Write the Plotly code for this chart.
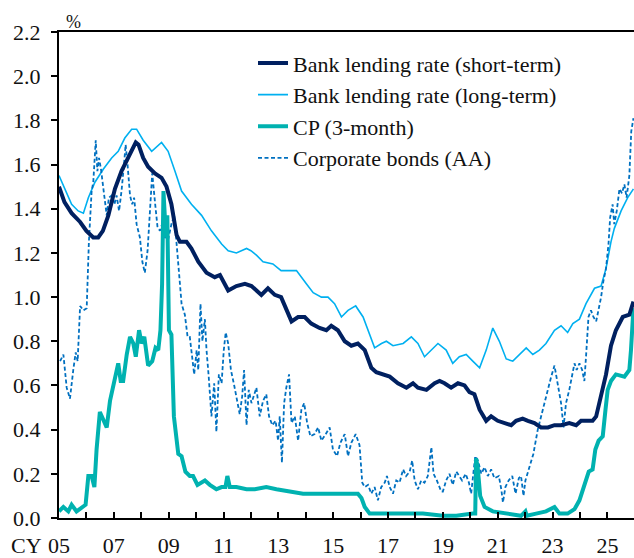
import plotly.graph_objects as go

# ---- data (decimal calendar years) ----
st_x = [2005.0, 2005.2, 2005.46, 2005.77, 2006.0, 2006.25, 2006.43, 2006.6, 2006.8, 2007.04, 2007.28, 2007.47,
        2007.67, 2007.8, 2007.9, 2008.07, 2008.25, 2008.5, 2008.74, 2008.92, 2009.1, 2009.29, 2009.41, 2009.65,
        2009.83, 2010.08, 2010.38, 2010.68, 2010.87, 2011.17, 2011.47, 2011.78, 2012.02, 2012.2, 2012.38, 2012.62,
        2012.87, 2013.1, 2013.3, 2013.48, 2013.72, 2013.96, 2014.2, 2014.5, 2014.75, 2014.93, 2015.17, 2015.42,
        2015.66, 2015.9, 2016.15, 2016.39, 2016.57, 2016.82, 2017.06, 2017.36, 2017.67, 2017.91, 2018.09, 2018.4,
        2018.7, 2018.88, 2019.06, 2019.3, 2019.55, 2019.79, 2019.97, 2020.15, 2020.34, 2020.58, 2020.76, 2021.0,
        2021.25, 2021.49, 2021.67, 2021.91, 2022.1, 2022.34, 2022.58, 2022.83, 2023.07, 2023.31, 2023.61, 2023.86,
        2024.04, 2024.22, 2024.46, 2024.59, 2024.77, 2024.95, 2025.13, 2025.31, 2025.56, 2025.8, 2025.95]
st_y = [1.50, 1.43, 1.38, 1.34, 1.30, 1.27, 1.27, 1.30, 1.37, 1.49, 1.57, 1.62,
        1.67, 1.70, 1.69, 1.63, 1.59, 1.56, 1.54, 1.50, 1.42, 1.28, 1.25, 1.25,
        1.22, 1.16, 1.11, 1.09, 1.10, 1.03, 1.05, 1.06, 1.05, 1.03, 1.01, 1.04,
        1.01, 1.00, 0.94, 0.89, 0.91, 0.91, 0.88, 0.86, 0.85, 0.87, 0.85, 0.80,
        0.78, 0.79, 0.76, 0.68, 0.66, 0.65, 0.64, 0.61, 0.59, 0.61, 0.59, 0.58,
        0.61, 0.62, 0.61, 0.59, 0.61, 0.60, 0.57, 0.56, 0.49, 0.44, 0.46, 0.44,
        0.43, 0.42, 0.44, 0.45, 0.44, 0.43, 0.41, 0.41, 0.42, 0.42, 0.43, 0.42,
        0.44, 0.44, 0.44, 0.46, 0.55, 0.65, 0.78, 0.85, 0.91, 0.92, 0.98]

lt_x = [2005.0, 2005.22, 2005.46, 2005.7, 2005.89, 2006.07, 2006.31, 2006.62, 2006.92, 2007.16, 2007.4, 2007.65,
        2007.83, 2008.07, 2008.38, 2008.74, 2008.98, 2009.23, 2009.47, 2009.83, 2010.2, 2010.56, 2010.93, 2011.17,
        2011.47, 2011.84, 2012.0, 2012.2, 2012.44, 2012.8, 2013.1, 2013.42, 2013.66, 2014.02, 2014.27, 2014.57,
        2014.81, 2015.05, 2015.3, 2015.54, 2015.82, 2016.09, 2016.27, 2016.51, 2016.76, 2016.94, 2017.18, 2017.55,
        2017.85, 2018.09, 2018.33, 2018.58, 2018.82, 2019.12, 2019.36, 2019.6, 2019.85, 2020.09, 2020.34, 2020.58,
        2020.82, 2021.06, 2021.31, 2021.55, 2021.79, 2022.04, 2022.28, 2022.52, 2022.76, 2023.07, 2023.31, 2023.55,
        2023.74, 2023.98, 2024.22, 2024.53, 2024.77, 2024.95, 2025.13, 2025.25, 2025.5, 2025.74, 2025.95]
lt_y = [1.55, 1.49, 1.42, 1.39, 1.38, 1.45, 1.52, 1.58, 1.63, 1.66, 1.72, 1.76,
        1.76, 1.71, 1.66, 1.70, 1.66, 1.57, 1.48, 1.42, 1.37, 1.30, 1.24, 1.21,
        1.20, 1.22, 1.21, 1.19, 1.16, 1.15, 1.12, 1.12, 1.12, 1.06, 1.02, 1.00,
        1.00, 0.97, 0.91, 0.94, 0.96, 0.91, 0.85, 0.77, 0.79, 0.80, 0.78, 0.79,
        0.82, 0.79, 0.73, 0.76, 0.79, 0.76, 0.70, 0.73, 0.74, 0.71, 0.68, 0.76,
        0.86, 0.80, 0.72, 0.71, 0.74, 0.77, 0.74, 0.76, 0.79, 0.85, 0.87, 0.84,
        0.88, 0.90, 0.97, 1.04, 1.05, 1.13, 1.25, 1.31, 1.39, 1.45, 1.49]

cp_x = [2005.0, 2005.16, 2005.34, 2005.46, 2005.64, 2005.83, 2005.97, 2006.07, 2006.19, 2006.29, 2006.37, 2006.49,
        2006.62, 2006.74, 2006.86, 2006.98, 2007.1, 2007.16, 2007.25, 2007.34, 2007.47, 2007.59, 2007.71, 2007.8,
        2007.92, 2008.01, 2008.11, 2008.25, 2008.4, 2008.52, 2008.62, 2008.7, 2008.76, 2008.81, 2008.9, 2008.95,
        2009.01, 2009.1, 2009.19, 2009.35, 2009.47, 2009.61, 2009.77, 2009.89, 2010.05, 2010.32, 2010.5, 2010.74,
        2010.93, 2011.07, 2011.14, 2011.23, 2011.47, 2011.84, 2012.14, 2012.56, 2012.93, 2013.41, 2013.9, 2014.39,
        2014.99, 2015.6, 2015.9, 2016.03, 2016.15, 2016.33, 2016.81, 2017.42, 2017.66, 2018.27, 2019.0, 2019.49,
        2020.09, 2020.18, 2020.21, 2020.27, 2020.36, 2020.52, 2020.82, 2021.31, 2021.85, 2022.01, 2022.06, 2022.4,
        2022.76, 2023.07, 2023.25, 2023.55, 2023.8, 2023.98, 2024.16, 2024.32, 2024.46, 2024.56, 2024.68, 2024.83,
        2024.93, 2025.01, 2025.13, 2025.31, 2025.62, 2025.8, 2025.86, 2025.95]
cp_y = [0.03, 0.05, 0.03, 0.06, 0.03, 0.05, 0.06, 0.19, 0.19, 0.14, 0.31, 0.48,
        0.44, 0.41, 0.53, 0.60, 0.65, 0.70, 0.62, 0.62, 0.74, 0.82, 0.79, 0.73,
        0.85, 0.79, 0.82, 0.69, 0.71, 0.77, 0.76, 0.85, 1.06, 1.48, 1.27, 1.37,
        0.85, 0.83, 0.46, 0.29, 0.28, 0.21, 0.19, 0.19, 0.15, 0.17, 0.15, 0.13,
        0.14, 0.14, 0.19, 0.14, 0.14, 0.13, 0.13, 0.14, 0.13, 0.12, 0.11, 0.11,
        0.11, 0.11, 0.11, 0.09, 0.05, 0.02, 0.02, 0.02, 0.02, 0.02, 0.01, 0.01,
        0.02, 0.02, 0.27, 0.23, 0.10, 0.05, 0.03, 0.02, 0.01, 0.03, 0.01, 0.02,
        0.03, 0.05, 0.02, 0.02, 0.04, 0.08, 0.15, 0.21, 0.22, 0.31, 0.35, 0.37,
        0.49, 0.58, 0.62, 0.65, 0.64, 0.67, 0.76, 0.95]

cb_x = [2005.04, 2005.16, 2005.28, 2005.4, 2005.52, 2005.61, 2005.68, 2005.77, 2005.89, 2006.01, 2006.09, 2006.19,
        2006.25, 2006.34, 2006.4, 2006.46, 2006.53, 2006.62, 2006.74, 2006.82, 2006.92, 2007.02, 2007.1, 2007.19,
        2007.28, 2007.37, 2007.43, 2007.5, 2007.59, 2007.67, 2007.74, 2007.83, 2007.95, 2008.04, 2008.13, 2008.23,
        2008.32, 2008.4, 2008.5, 2008.59, 2008.68, 2008.76, 2008.86, 2008.98, 2009.1, 2009.2, 2009.29, 2009.37,
        2009.47, 2009.59, 2009.69, 2009.77, 2009.86, 2009.93, 2010.02, 2010.08, 2010.16, 2010.23, 2010.32, 2010.38,
        2010.46, 2010.56, 2010.66, 2010.74, 2010.83, 2010.93, 2011.01, 2011.08, 2011.17, 2011.27, 2011.39, 2011.51,
        2011.59, 2011.68, 2011.75, 2011.84, 2011.92, 2012.02, 2012.12, 2012.2, 2012.32, 2012.44, 2012.56, 2012.66,
        2012.78, 2012.9, 2012.99, 2013.05, 2013.13, 2013.21, 2013.29, 2013.39, 2013.48, 2013.6, 2013.72, 2013.84,
        2013.94, 2014.05, 2014.17, 2014.32, 2014.45, 2014.57, 2014.73, 2014.87, 2014.99, 2015.14, 2015.26, 2015.42,
        2015.54, 2015.66, 2015.82, 2015.96, 2016.06, 2016.15, 2016.27, 2016.39, 2016.51, 2016.63, 2016.75, 2016.88,
        2016.96, 2017.06, 2017.18, 2017.3, 2017.42, 2017.55, 2017.66, 2017.79, 2017.88, 2017.97, 2018.09, 2018.21,
        2018.33, 2018.45, 2018.58, 2018.66, 2018.78, 2018.94, 2019.0, 2019.12, 2019.24, 2019.36, 2019.49, 2019.61,
        2019.7, 2019.83, 2019.95, 2020.03, 2020.09, 2020.18, 2020.28, 2020.4, 2020.52, 2020.64, 2020.76, 2020.88,
        2021.04, 2021.13, 2021.19, 2021.28, 2021.4, 2021.53, 2021.65, 2021.77, 2021.85, 2021.94, 2022.01, 2022.16,
        2022.3, 2022.46, 2022.58, 2022.7, 2022.83, 2022.95, 2023.07, 2023.19, 2023.31, 2023.4, 2023.49, 2023.61,
        2023.71, 2023.8, 2023.88, 2023.98, 2024.08, 2024.16, 2024.22, 2024.31, 2024.4, 2024.49, 2024.59, 2024.68,
        2024.77, 2024.85, 2024.95, 2025.04, 2025.1, 2025.19, 2025.25, 2025.34, 2025.44, 2025.53, 2025.62, 2025.7,
        2025.8, 2025.87, 2025.95]
cb_y = [0.71, 0.74, 0.59, 0.54, 0.67, 0.75, 0.71, 0.96, 0.94, 0.95, 1.25, 1.48,
        1.52, 1.71, 1.57, 1.63, 1.58, 1.48, 1.37, 1.45, 1.46, 1.42, 1.46, 1.39,
        1.48, 1.60, 1.69, 1.60, 1.46, 1.42, 1.45, 1.33, 1.27, 1.16, 1.11, 1.21,
        1.42, 1.56, 1.43, 1.32, 1.30, 1.33, 1.27, 1.26, 1.33, 1.37, 1.24, 1.12,
        0.97, 0.92, 0.82, 0.82, 0.73, 0.65, 0.76, 0.67, 0.97, 0.80, 0.90, 0.76,
        0.64, 0.46, 0.61, 0.39, 0.65, 0.61, 0.76, 0.84, 0.79, 0.67, 0.60, 0.52,
        0.47, 0.55, 0.67, 0.42, 0.58, 0.52, 0.56, 0.59, 0.46, 0.53, 0.56, 0.46,
        0.42, 0.44, 0.35, 0.46, 0.25, 0.52, 0.59, 0.65, 0.43, 0.46, 0.35, 0.49,
        0.52, 0.43, 0.37, 0.38, 0.41, 0.35, 0.38, 0.41, 0.31, 0.28, 0.34, 0.38,
        0.28, 0.34, 0.38, 0.33, 0.16, 0.14, 0.15, 0.11, 0.14, 0.08, 0.14, 0.16,
        0.19, 0.14, 0.11, 0.17, 0.16, 0.22, 0.19, 0.21, 0.26, 0.17, 0.13, 0.17,
        0.16, 0.19, 0.32, 0.20, 0.17, 0.12, 0.12, 0.17, 0.20, 0.15, 0.21, 0.19,
        0.17, 0.20, 0.16, 0.11, 0.17, 0.28, 0.26, 0.20, 0.23, 0.19, 0.22, 0.18,
        0.19, 0.13, 0.07, 0.14, 0.17, 0.19, 0.11, 0.18, 0.19, 0.10, 0.17, 0.23,
        0.29, 0.40, 0.46, 0.52, 0.59, 0.64, 0.69, 0.61, 0.52, 0.41, 0.52, 0.58,
        0.64, 0.70, 0.67, 0.70, 0.67, 0.62, 0.73, 0.91, 0.94, 0.91, 0.89, 0.94,
        1.00, 1.07, 1.13, 1.24, 1.36, 1.42, 1.33, 1.39, 1.49, 1.47, 1.51, 1.45,
        1.55, 1.75, 1.81]

year_ticks = list(range(2005, 2026))
year_labels = [("%02d" % (y % 100)) if y % 2 == 1 else "" for y in year_ticks]
y_ticks = [0.0, 0.2, 0.4, 0.6, 0.8, 1.0, 1.2, 1.4, 1.6, 1.8, 2.0, 2.2]

FONT = "Liberation Serif"

fig = go.Figure()
fig.add_trace(go.Scatter(x=lt_x, y=lt_y, mode="lines", name="Bank lending rate (long-term)",
                         line=dict(color="#00B0F0", width=1.6), legendrank=2))
fig.add_trace(go.Scatter(x=cb_x, y=cb_y, mode="lines", name="Corporate bonds (AA)",
                         line=dict(color="#0070C0", width=1.8, dash="4px,2.5px"), legendrank=4))
fig.add_trace(go.Scatter(x=cp_x, y=cp_y, mode="lines", name="CP (3-month)",
                         line=dict(color="#00B2B0", width=4), legendrank=3))
fig.add_trace(go.Scatter(x=st_x, y=st_y, mode="lines", name="Bank lending rate (short-term)",
                         line=dict(color="#002060", width=4), legendrank=1))

fig.update_layout(
    width=634, height=558,
    margin=dict(l=59, r=0, t=32, b=36),
    plot_bgcolor="white", paper_bgcolor="white",
    font=dict(family=FONT, size=22, color="#111111"),
    showlegend=True,
    legend=dict(x=0.3374, y=0.979, xanchor="left", yanchor="top",
                bgcolor="rgba(0,0,0,0)", font=dict(family=FONT, size=22), tracegroupgap=0),
    xaxis=dict(range=[2005, 2025.97], tickmode="array", tickvals=year_ticks, ticktext=year_labels,
               ticks="inside", ticklen=6, tickwidth=1.5, tickcolor="black", ticklabelstandoff=7,
               showline=True, linecolor="black", linewidth=2, mirror=True,
               showgrid=False, zeroline=False, tickfont=dict(family=FONT, size=22)),
    yaxis=dict(range=[0, 2.2], tickmode="array", tickvals=y_ticks,
               ticktext=["%.1f" % v for v in y_ticks],
               ticks="outside", ticklen=6, tickwidth=1.5, tickcolor="black", ticklabelstandoff=6,
               showline=True, linecolor="black", linewidth=2,
               showgrid=False, zeroline=False, tickfont=dict(family=FONT, size=22)),
)

fig.add_annotation(text="%", xref="paper", yref="paper", x=0.0, y=1.0, xshift=5, yshift=-2,
                   xanchor="left", yanchor="bottom", showarrow=False, font=dict(family=FONT, size=18))
fig.add_annotation(text="CY", xref="paper", yref="paper", x=0.0, y=0.0, xshift=-15, yshift=-27,
                   xanchor="right", yanchor="middle", showarrow=False, font=dict(family=FONT, size=22))

# remove the default 8px page margin so the 634x558 figure fills the window exactly
fig.write_html("out.html", config={"displayModeBar": False},
               post_script="document.body.style.margin='0px';document.body.style.overflow='hidden';")
